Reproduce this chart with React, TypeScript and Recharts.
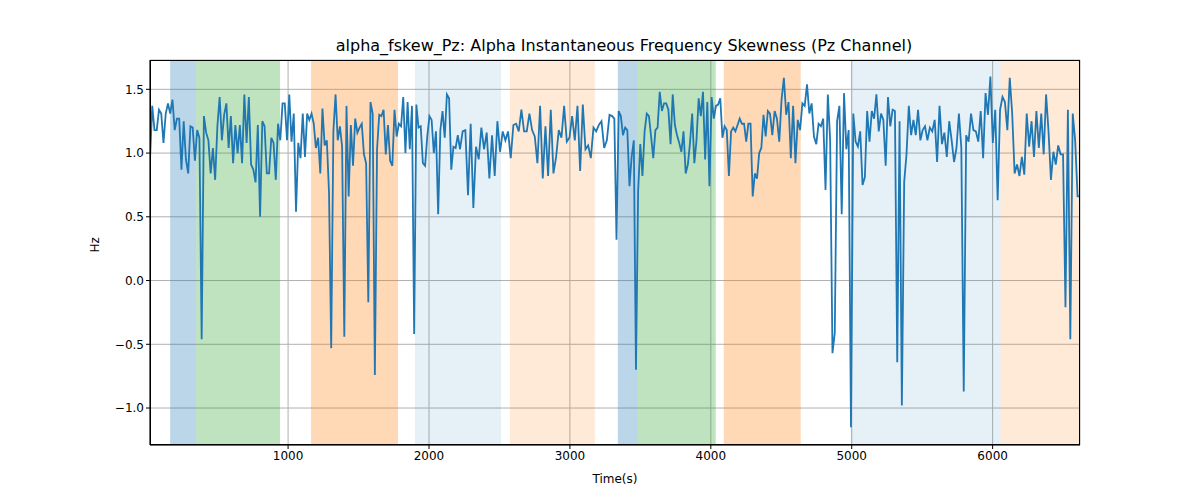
import React from 'react';
import { ComposedChart, Line, XAxis, YAxis, CartesianGrid, ReferenceArea } from 'recharts';

const seg1 = [0.95,1.37,1.18,1.18,1.34,1.31,1.08,1.31,1.39,1.31,1.42,1.18,1.27,1.27,0.87,1.25,0.95,0.84,1.21,1.2,0.94,1.18,1.12,-0.46,1.29,1.16,1.1,0.84,1.04,0.79,1.21,1.44,1.1,1.3,1.39,1.04,1.29,0.92,1.22,1.0,1.22,0.92,1.46,1.08,1.44,0.91,0.87,0.77,1.22,0.5,1.25,1.21,0.84,0.84,1.12,1.08,0.79,1.23,1.1,1.39,1.39,1.1,1.46,1.09,1.31,0.54,1.08,0.96,1.31];
const seg2 = [0.97,1.31,1.26,1.31,1.23,1.04,1.12,0.84,1.35,1.06,1.1,0.69,-0.53,1.17,1.46,1.1,1.21,1.05,-0.44,1.37,0.66,1.22,0.9,1.27,1.16,1.2,1.23,0.99,0.92,-0.17,1.4,1.31,-0.74,1.03,1.3,1.29,1.34,0.99,1.22,0.94,0.9,1.34,1.13,1.23,1.21,1.44,1.0,1.4,1.03,1.37,-0.42,1.38,1.2,1.21,0.92,0.9,1.13,1.29,1.26,1.0,1.17,0.52,1.18,1.33,1.12,1.46,1.43,0.87,1.05,1.04,1.14];
const seg3 = [1.03,1.17,1.18,0.67,1.23,0.57,1.05,0.95,1.2,1.03,1.16,0.8,1.14,0.82,1.25,1.01,1.17,1.1,1.17,0.96,1.22,1.23,1.17,1.34,1.17,1.17,1.31,1.18,1.13,0.92,1.37,0.8,1.21,0.82,1.34,0.84,0.97,1.18,1.12,1.37,1.09,1.12,1.29,1.1,1.37,0.86,1.38,1.03,1.06,0.96,1.2,1.17,1.22,1.25,1.04,1.1,1.3];
const seg4 = [1.29,1.27,0.32,1.33,1.29,1.14,1.2,1.18,0.74,0.97,1.1,-0.7,0.7,1.07,0.82,1.17,1.31,1.29,1.13,0.96,1.18,1.2,1.48,1.33,1.39,1.39,1.34,1.07,1.46,1.22,1.14,1.08,1.01,1.17,0.84,0.91,1.08,1.31,0.92,1.1,1.43,1.29,1.48,0.95,1.4,0.74,1.44,1.27,1.37,1.38,1.43,1.12,1.21,1.18,0.82,1.17,1.2,1.17,1.22,1.27,1.23,1.23,1.09,1.23,1.23,0.66,0.84,0.8,1.0,1.04,1.3,1.13,1.33];
const seg5 = [1.31,1.14,1.33,1.27,1.09,1.42,1.59,1.3,1.4,0.96,1.37,0.92,1.26,1.18,1.39,1.37,1.54,1.31,1.39,1.13,1.07,1.23,1.21,1.27,0.71,1.46,1.1,-0.57,-0.41,1.25,1.37,0.52,1.47,1.03,1.18,-1.15,1.31,1.09,1.05,1.17,0.75,0.81,1.33,1.09,1.33,1.27,1.46,1.17,1.31,1.26,0.9,1.44,1.21,1.34,1.33,-0.64,1.25,-0.98,0.77,0.99,1.37,1.14,1.26,1.14,1.34,1.1,1.18];
const seg6 = [1.21,1.1,1.2,1.17,1.26,0.93,1.37,1.07,1.16,0.97,1.25,1.1,0.93,1.04,1.31,1.04,-0.87,1.14,1.09,1.31,1.18,1.17,1.09,1.33,0.96,1.47,1.3,1.6,1.08,1.34,0.63,1.34,1.44,1.4,1.18,1.59,1.31,0.84,0.91,0.82,0.97,0.83,1.31,1.05,1.25,0.97,1.33,1.04,1.31,0.99,1.46,1.17,0.79,1.01,0.91,1.06,0.99,0.99,-0.21,1.34,-0.46,1.31,1.1,0.66];
const segStarts = [20, 1120, 2220, 3300, 4420, 5520, 6620];
const segments = [seg1, seg2, seg3, seg4, seg5, seg6];

const xTicks = [1000, 2000, 3000, 4000, 5000, 6000];
const yTicks = [-1.0, -0.5, 0, 0.5, 1.0, 1.5];

const bands = [
  { x1: 163, x2: 348, fill: '#1f77b4', op: 0.3 },
  { x1: 348, x2: 943, fill: '#2ca02c', op: 0.3 },
  { x1: 1163, x2: 1780, fill: '#ff7f0e', op: 0.3 },
  { x1: 1900, x2: 2511, fill: '#1f77b4', op: 0.11 },
  { x1: 2574, x2: 3177, fill: '#ff7f0e', op: 0.16 },
  { x1: 3340, x2: 3482, fill: '#1f77b4', op: 0.3 },
  { x1: 3482, x2: 4035, fill: '#2ca02c', op: 0.3 },
  { x1: 4092, x2: 4638, fill: '#ff7f0e', op: 0.3 },
  { x1: 4993, x2: 6057, fill: '#1f77b4', op: 0.11 },
  { x1: 6057, x2: 6620, fill: '#ff7f0e', op: 0.16 },
];

const data: { t: number; v: number }[] = [];
segments.forEach((s, k) => {
  const a = segStarts[k], b = segStarts[k + 1];
  s.forEach((v, i) => data.push({ t: a + ((b - a) * i) / s.length, v }));
});
data.push({ t: 6620, v: 0.66 });

const fmt = (v: number) => (v < 0 ? '\u2212' : '') + Math.abs(v).toFixed(1);
const font = 'DejaVu Sans, sans-serif';

export default function App() {
  return (
    <div style={{ position: 'relative', width: 1200, height: 500, fontFamily: font }}>
      <div style={{ position: 'absolute', top: 28, left: 0, width: 1232, textAlign: 'center', fontSize: 16, color: '#000' }}>
        alpha_fskew_Pz: Alpha Instantaneous Frequency Skewness (Pz Channel)
      </div>
      <ComposedChart width={1200} height={500} data={data} margin={{ top: 52, right: 128, bottom: 33, left: 92 }}>
        <CartesianGrid stroke="#b0b0b0" strokeWidth={1} />
        {bands.map((b, i) => (
          <ReferenceArea key={i} x1={b.x1} x2={b.x2} fill={b.fill} fillOpacity={b.op} stroke="none" ifOverflow="hidden" />
        ))}
        <XAxis dataKey="t" type="number" domain={[20, 6620]} ticks={xTicks} allowDataOverflow
          stroke="#000" tick={{ fill: '#000', fontSize: 12, fontFamily: font }} tickSize={4} height={30}
          label={{ value: 'Time(s)', position: 'insideBottom', offset: -8, fill: '#000', fontSize: 12, fontFamily: font }} />
        <YAxis type="number" domain={[-1.29, 1.73]} ticks={yTicks} allowDataOverflow tickFormatter={fmt}
          stroke="#000" tick={{ fill: '#000', fontSize: 12, fontFamily: font }} tickSize={4} width={50}
          label={{ value: 'Hz', angle: -90, position: 'insideLeft', offset: -5, fill: '#000', fontSize: 12, fontFamily: font }} />
        <Line dataKey="v" stroke="#1f77b4" strokeWidth={1.8} dot={false} isAnimationActive={false} />
      </ComposedChart>
      <div style={{ position: 'absolute', left: 142, top: 52, width: 930, height: 385, border: '1px solid #000', boxSizing: 'border-box', pointerEvents: 'none' }} />
    </div>
  );
}
